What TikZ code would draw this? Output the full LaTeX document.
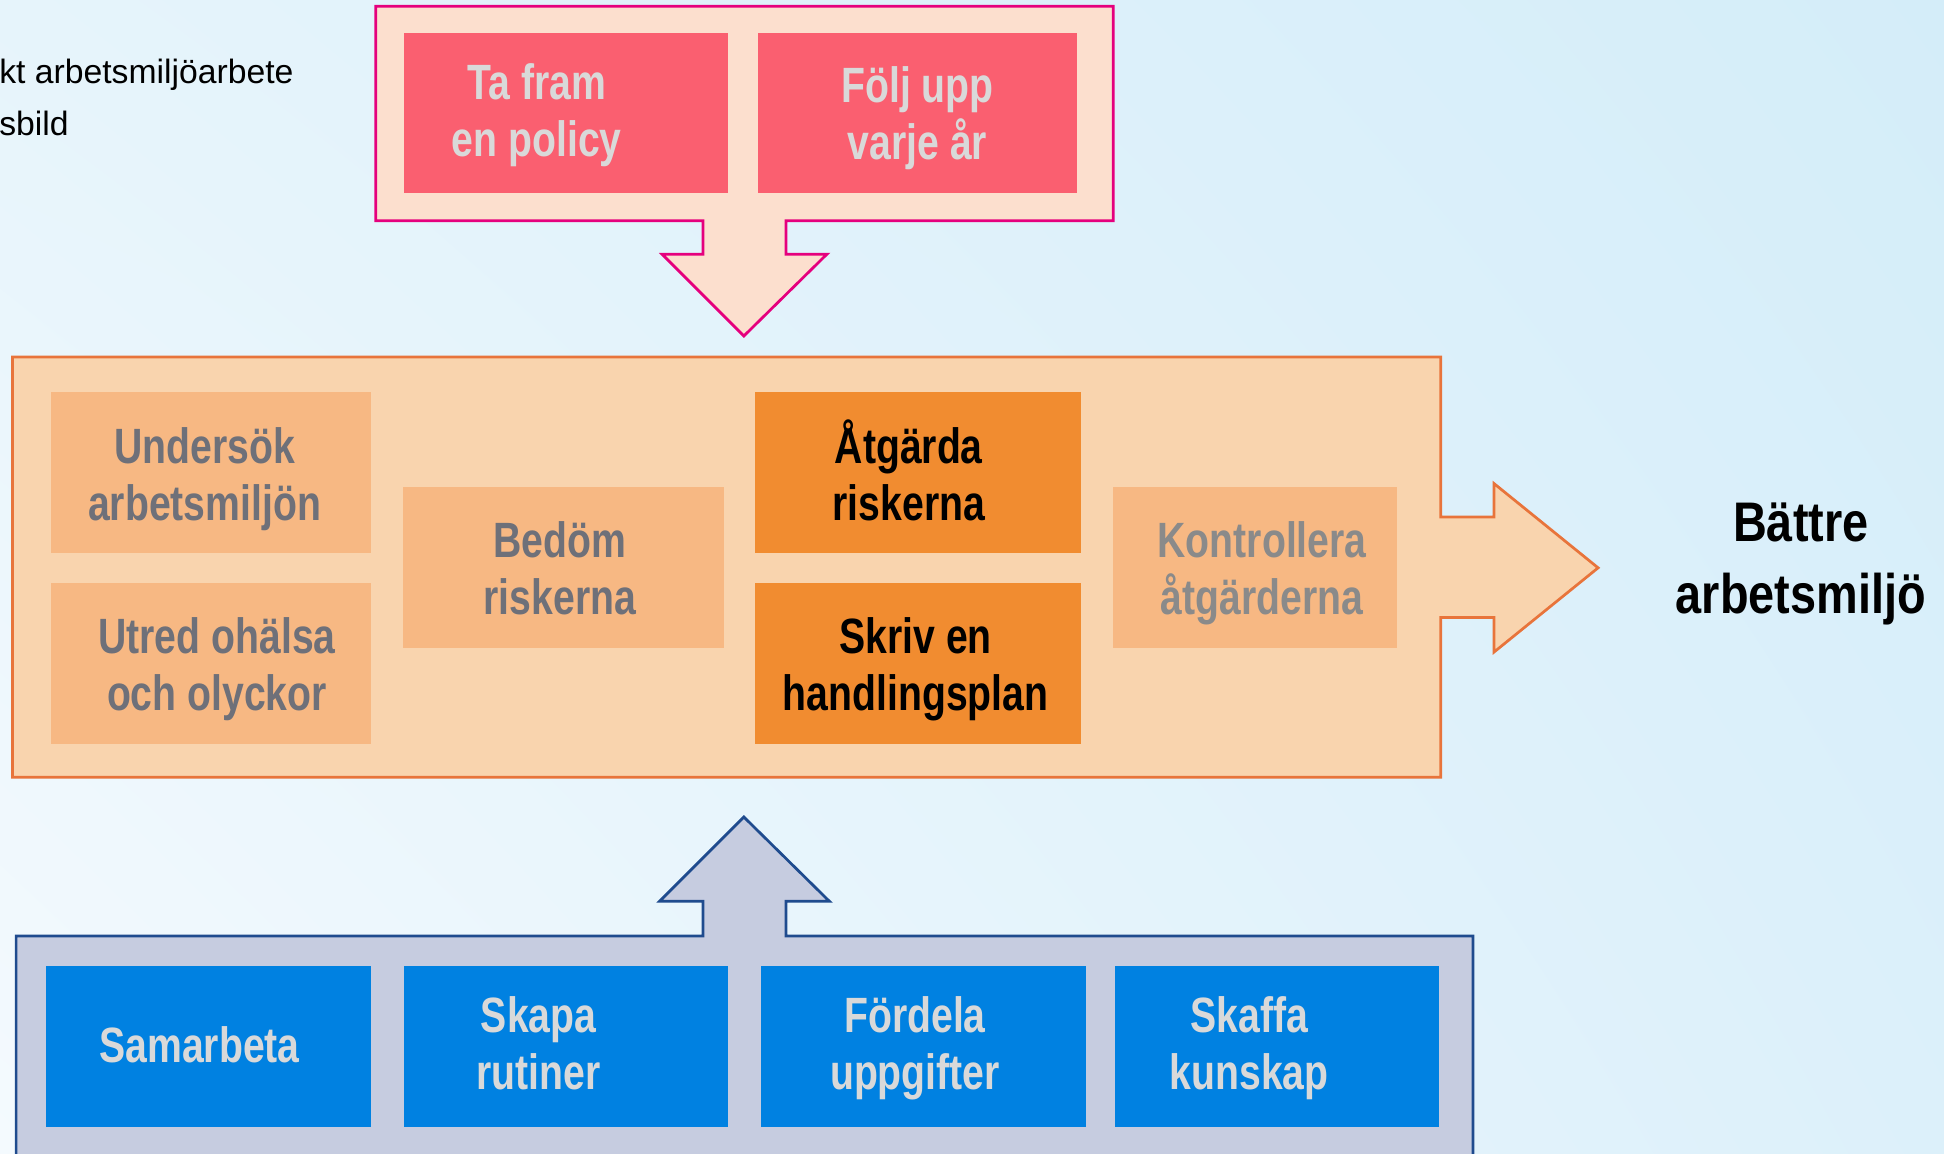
\documentclass[tikz,border=0pt]{standalone}
\usepackage{fontspec}
\usetikzlibrary{shadings}
\setmainfont{Liberation Sans}
\newfontfamily\nb[FakeStretch=0.79]{Liberation Sans}
\newfontfamily\nbb[FakeStretch=0.84]{Liberation Sans}
\definecolor{bgUL}{HTML}{E6F4FB}
\definecolor{bgUR}{HTML}{D4EDF9}
\definecolor{bgLL}{HTML}{F4FAFE}
\definecolor{bgLR}{HTML}{DCF0FA}
\definecolor{pinkFill}{HTML}{FCDFCE}
\definecolor{pinkLine}{HTML}{E5007D}
\definecolor{redBox}{HTML}{FA5F70}
\definecolor{lightTxt}{HTML}{D9D9D9}
\definecolor{midFill}{HTML}{F9D4AE}
\definecolor{midLine}{HTML}{E8743B}
\definecolor{ltOrange}{HTML}{F7B883}
\definecolor{grayTxt}{HTML}{6E7079}
\definecolor{grayTxtB}{HTML}{8A8A8A}
\definecolor{dkOrange}{HTML}{F18C30}
\definecolor{botFill}{HTML}{C6CCE0}
\definecolor{botLine}{HTML}{1F4B8E}
\definecolor{blueBox}{HTML}{0081E1}
\newcommand{\ctrlines}[3][23pt]{\vtop{\baselineskip=#1\lineskiplimit=-100pt\lineskip=0pt\halign{\hfil##\hfil\cr #2\cr #3\cr}}}
\newcommand{\leftlines}[3][21pt]{\vtop{\baselineskip=#1\lineskiplimit=-100pt\lineskip=0pt\halign{##\hfil\cr #2\cr #3\cr}}}
\begin{document}
\begin{tikzpicture}[x={(0.5pt,0)},y={(0,-0.5pt)},
  boxbase/.style={rectangle,inner sep=0pt,outer sep=0pt,draw=none,minimum height=65pt},
  redbox/.style={boxbase,fill=redBox,minimum height=64.5pt},
  ltbox/.style={boxbase,fill=ltOrange},
  dkbox/.style={boxbase,fill=dkOrange},
  bluebox/.style={boxbase,fill=blueBox},
  txt/.style={anchor=base,inner sep=0pt,outer sep=0pt,font=\nb\bfseries\fontsize{20}{23}\selectfont},
  lighttxt/.style={txt,text=lightTxt},
  graytxt/.style={txt,text=grayTxt},
  graytxtb/.style={txt,text=grayTxtB},
  blacktxt/.style={txt,text=black},
  pinkframe/.style={fill=pinkFill,draw=pinkLine,line width=1.1pt,line join=miter},
  midframe/.style={fill=midFill,draw=midLine,line width=1.1pt,line join=miter},
  botframe/.style={fill=botFill,draw=botLine,line width=1.1pt,line join=miter}]
\useasboundingbox (0,0) rectangle (1568,930);
\clip (0,0) rectangle (1568,930);
\shade[upper left=bgUL,upper right=bgUR,lower left=bgLL,lower right=bgLR] (0,0) rectangle (1568,930);

% title fragment
\node[anchor=base west,inner sep=0pt,font=\fontsize{13.6}{21}\selectfont] (title) at (-1,67)
  {\leftlines{kt arbetsmiljöarbete}{sbild}};

% top group
\draw[pinkframe] (303,5) -- (898,5) -- (898,178) -- (634,178) -- (634,205) -- (667,205)
  -- (600,271) -- (534,205) -- (567,205) -- (567,178) -- (303,178) -- cycle;
\node[redbox,minimum width=130.5pt] (policy) at (456.5,91.5) {};
\node[redbox,minimum width=129pt] (folj) at (740,91.5) {};
\node[lighttxt] (policyT) at (433,80) {\ctrlines{Ta fram}{en policy}};
\node[lighttxt] (foljT) at (740,83) {\ctrlines{Följ upp}{varje år}};

% middle group
\draw[midframe] (10,288) -- (1162,288) -- (1162,417) -- (1205,417) -- (1205,390)
  -- (1289,458) -- (1205,526) -- (1205,498) -- (1162,498) -- (1162,627) -- (10,627) -- cycle;
\node[ltbox,minimum width=129pt] (unders) at (170,381) {};
\node[ltbox,minimum width=129pt] (utred) at (170,535) {};
\node[ltbox,minimum width=129.5pt] (bedom) at (454.5,458) {};
\node[dkbox,minimum width=131.5pt] (atgarda) at (740.5,381) {};
\node[dkbox,minimum width=131.5pt] (skriv) at (740.5,535) {};
\node[ltbox,minimum width=114.5pt] (kontr) at (1012.5,458) {};
\node[graytxt] (undersT) at (165,373.6) {\ctrlines{Undersök}{arbetsmiljön}};
\node[graytxt] (utredT) at (175,527) {\ctrlines{Utred ohälsa}{och olyckor}};
\node[graytxt] (bedomT) at (451.5,450) {\ctrlines{Bedöm}{riskerna}};
\node[blacktxt] (atgardaT) at (733,373.6) {\ctrlines{Åtgärda}{riskerna}};
\node[blacktxt] (skrivT) at (738.5,527) {\ctrlines{Skriv en}{handlingsplan}};
\node[graytxtb] (kontrT) at (1018,450) {\ctrlines{Kontrollera}{åtgärderna}};

\node[anchor=base,inner sep=0pt,font=\nbb\bfseries\fontsize{22.5}{28.75}\selectfont] (battre) at (1452.5,437)
  {\ctrlines[28.75pt]{Bättre}{arbetsmiljö}};

% bottom group
\draw[botframe] (13,755) -- (567,755) -- (567,727) -- (532,727) -- (600,659) -- (669,727)
  -- (634,727) -- (634,755) -- (1188,755) -- (1188,940) -- (13,940) -- cycle;
\node[bluebox,minimum width=131pt] (samarb) at (168,844) {};
\node[bluebox,minimum width=130.5pt] (skapa) at (456.5,844) {};
\node[bluebox,minimum width=131pt] (fordela) at (745,844) {};
\node[bluebox,minimum width=131pt] (skaffa) at (1030,844) {};
\node[lighttxt] (samarbT) at (161,857) {Samarbeta};
\node[lighttxt] (skapaT) at (434.5,833) {\ctrlines{Skapa}{rutiner}};
\node[lighttxt] (fordelaT) at (738,833) {\ctrlines{Fördela}{uppgifter}};
\node[lighttxt] (skaffaT) at (1007.5,833) {\ctrlines{Skaffa}{kunskap}};
\end{tikzpicture}
\end{document}
